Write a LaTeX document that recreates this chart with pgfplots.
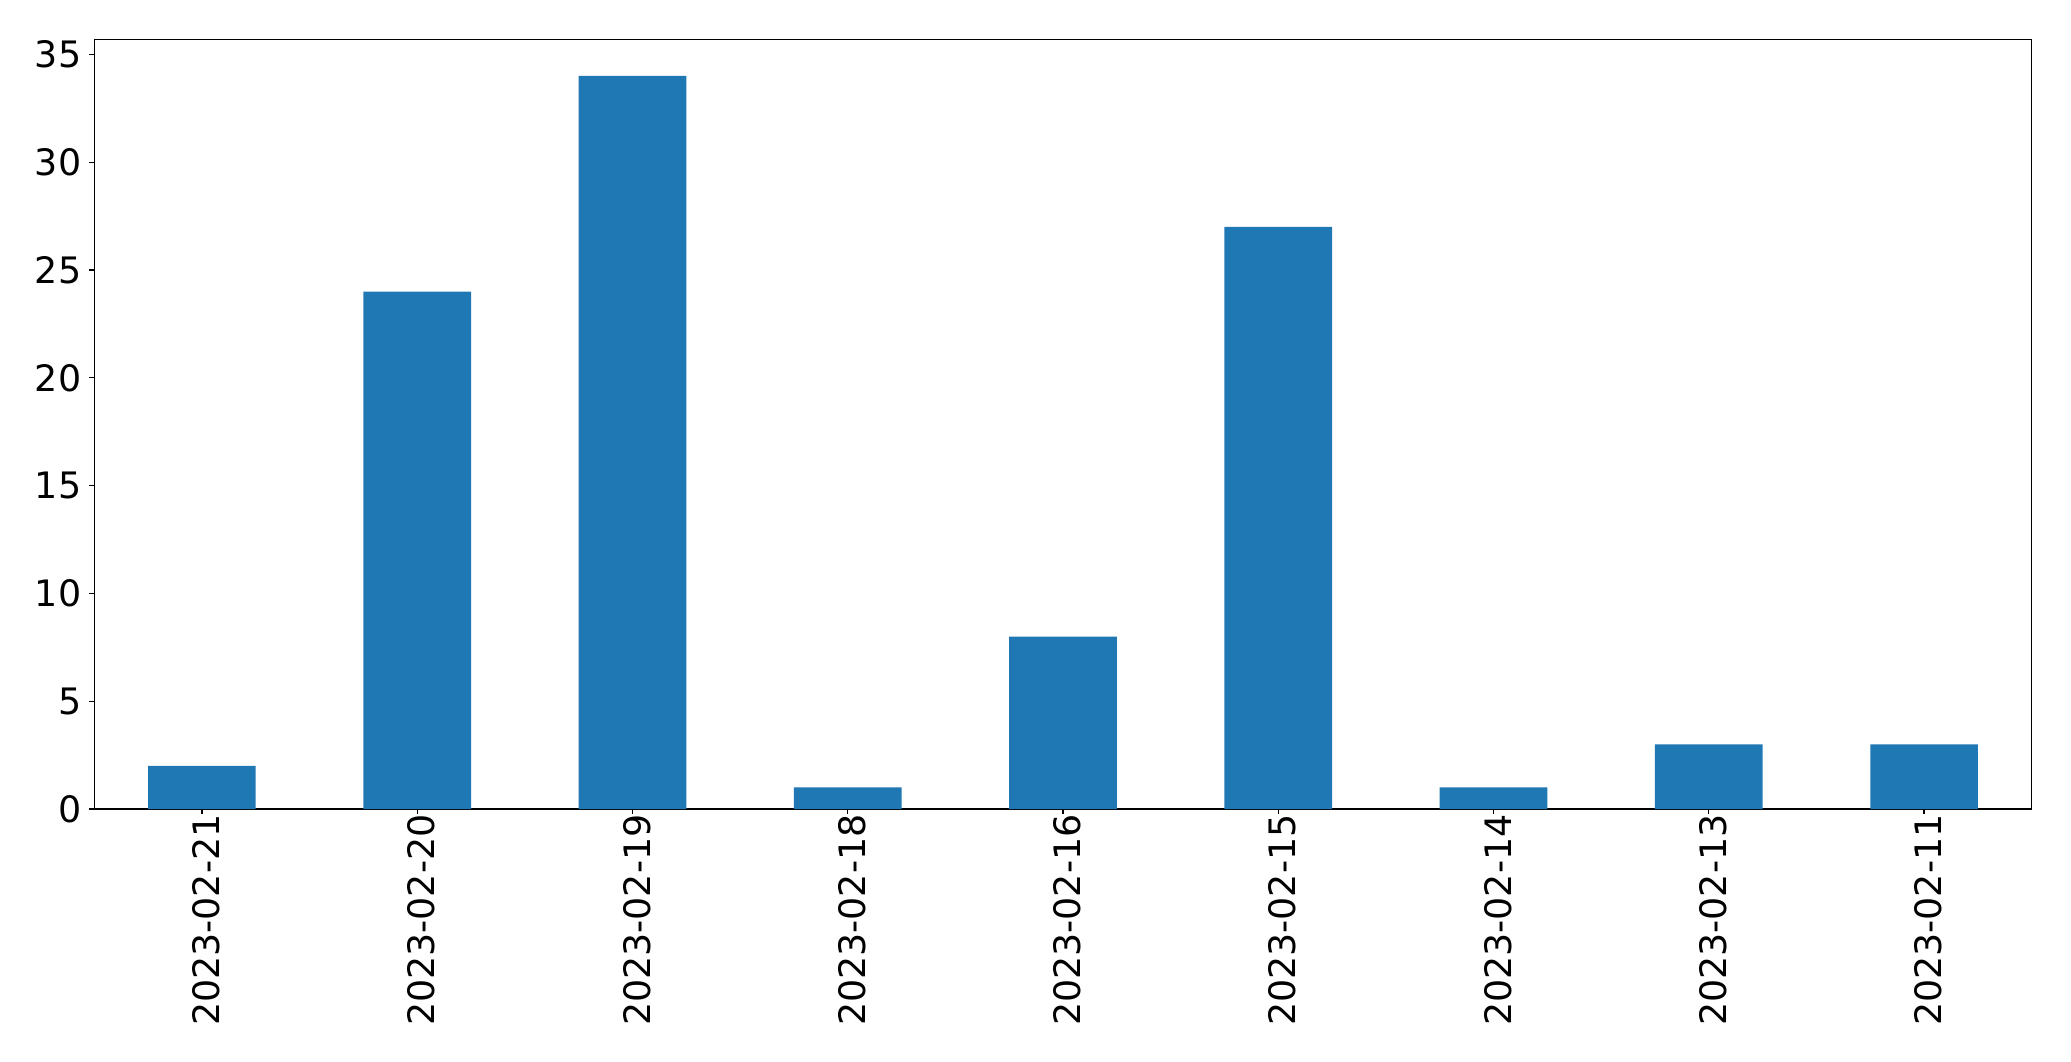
\documentclass[border=0pt]{standalone}
\usepackage{pgfplots}
\pgfplotsset{compat=1.18}
\usepackage{fontspec}
\setmainfont{DejaVu Sans}
\definecolor{mplblue}{HTML}{1F77B4}
\begin{document}
\fontsize{18.2}{21}\selectfont
\begin{tikzpicture}
\begin{axis}[
  name=ax,
  scale only axis,
  width=968.7pt, height=384.85pt,
  xmin=-0.5, xmax=8.5, ymin=0, ymax=35.7,
  xtick={0,1,2,3,4,5,6,7,8},
  xticklabels={2023-02-21,2023-02-20,2023-02-19,2023-02-18,2023-02-16,2023-02-15,2023-02-14,2023-02-13,2023-02-11},
  ytick={0,5,10,15,20,25,30,35},
  xtick pos=bottom, ytick pos=left,
  tick align=outside,
  major tick length=2.5pt,
  axis line style={line width=0.6pt},
  every tick/.style={black, line width=0.6pt},
  xticklabel style={rotate=90, anchor=east, inner sep=0pt, yshift=-2.2pt},
  yticklabel style={inner sep=0pt, xshift=-3.8pt},
  /pgf/number format/assume math mode=true,
  tick label style={font=\fontsize{18.2}{21}\selectfont},
  axis background/.style={fill=white},
  clip=false,
]
\addplot[ybar, bar width=0.5, fill=mplblue, draw=none] coordinates {
  (0,2) (1,24) (2,34) (3,1) (4,8) (5,27) (6,1) (7,3) (8,3)
};
\end{axis}
\pgfresetboundingbox
\path (ax.south west) ++(-47.15pt,-126pt) rectangle ++(1035.5pt,530.5pt);
\end{tikzpicture}
\end{document}
